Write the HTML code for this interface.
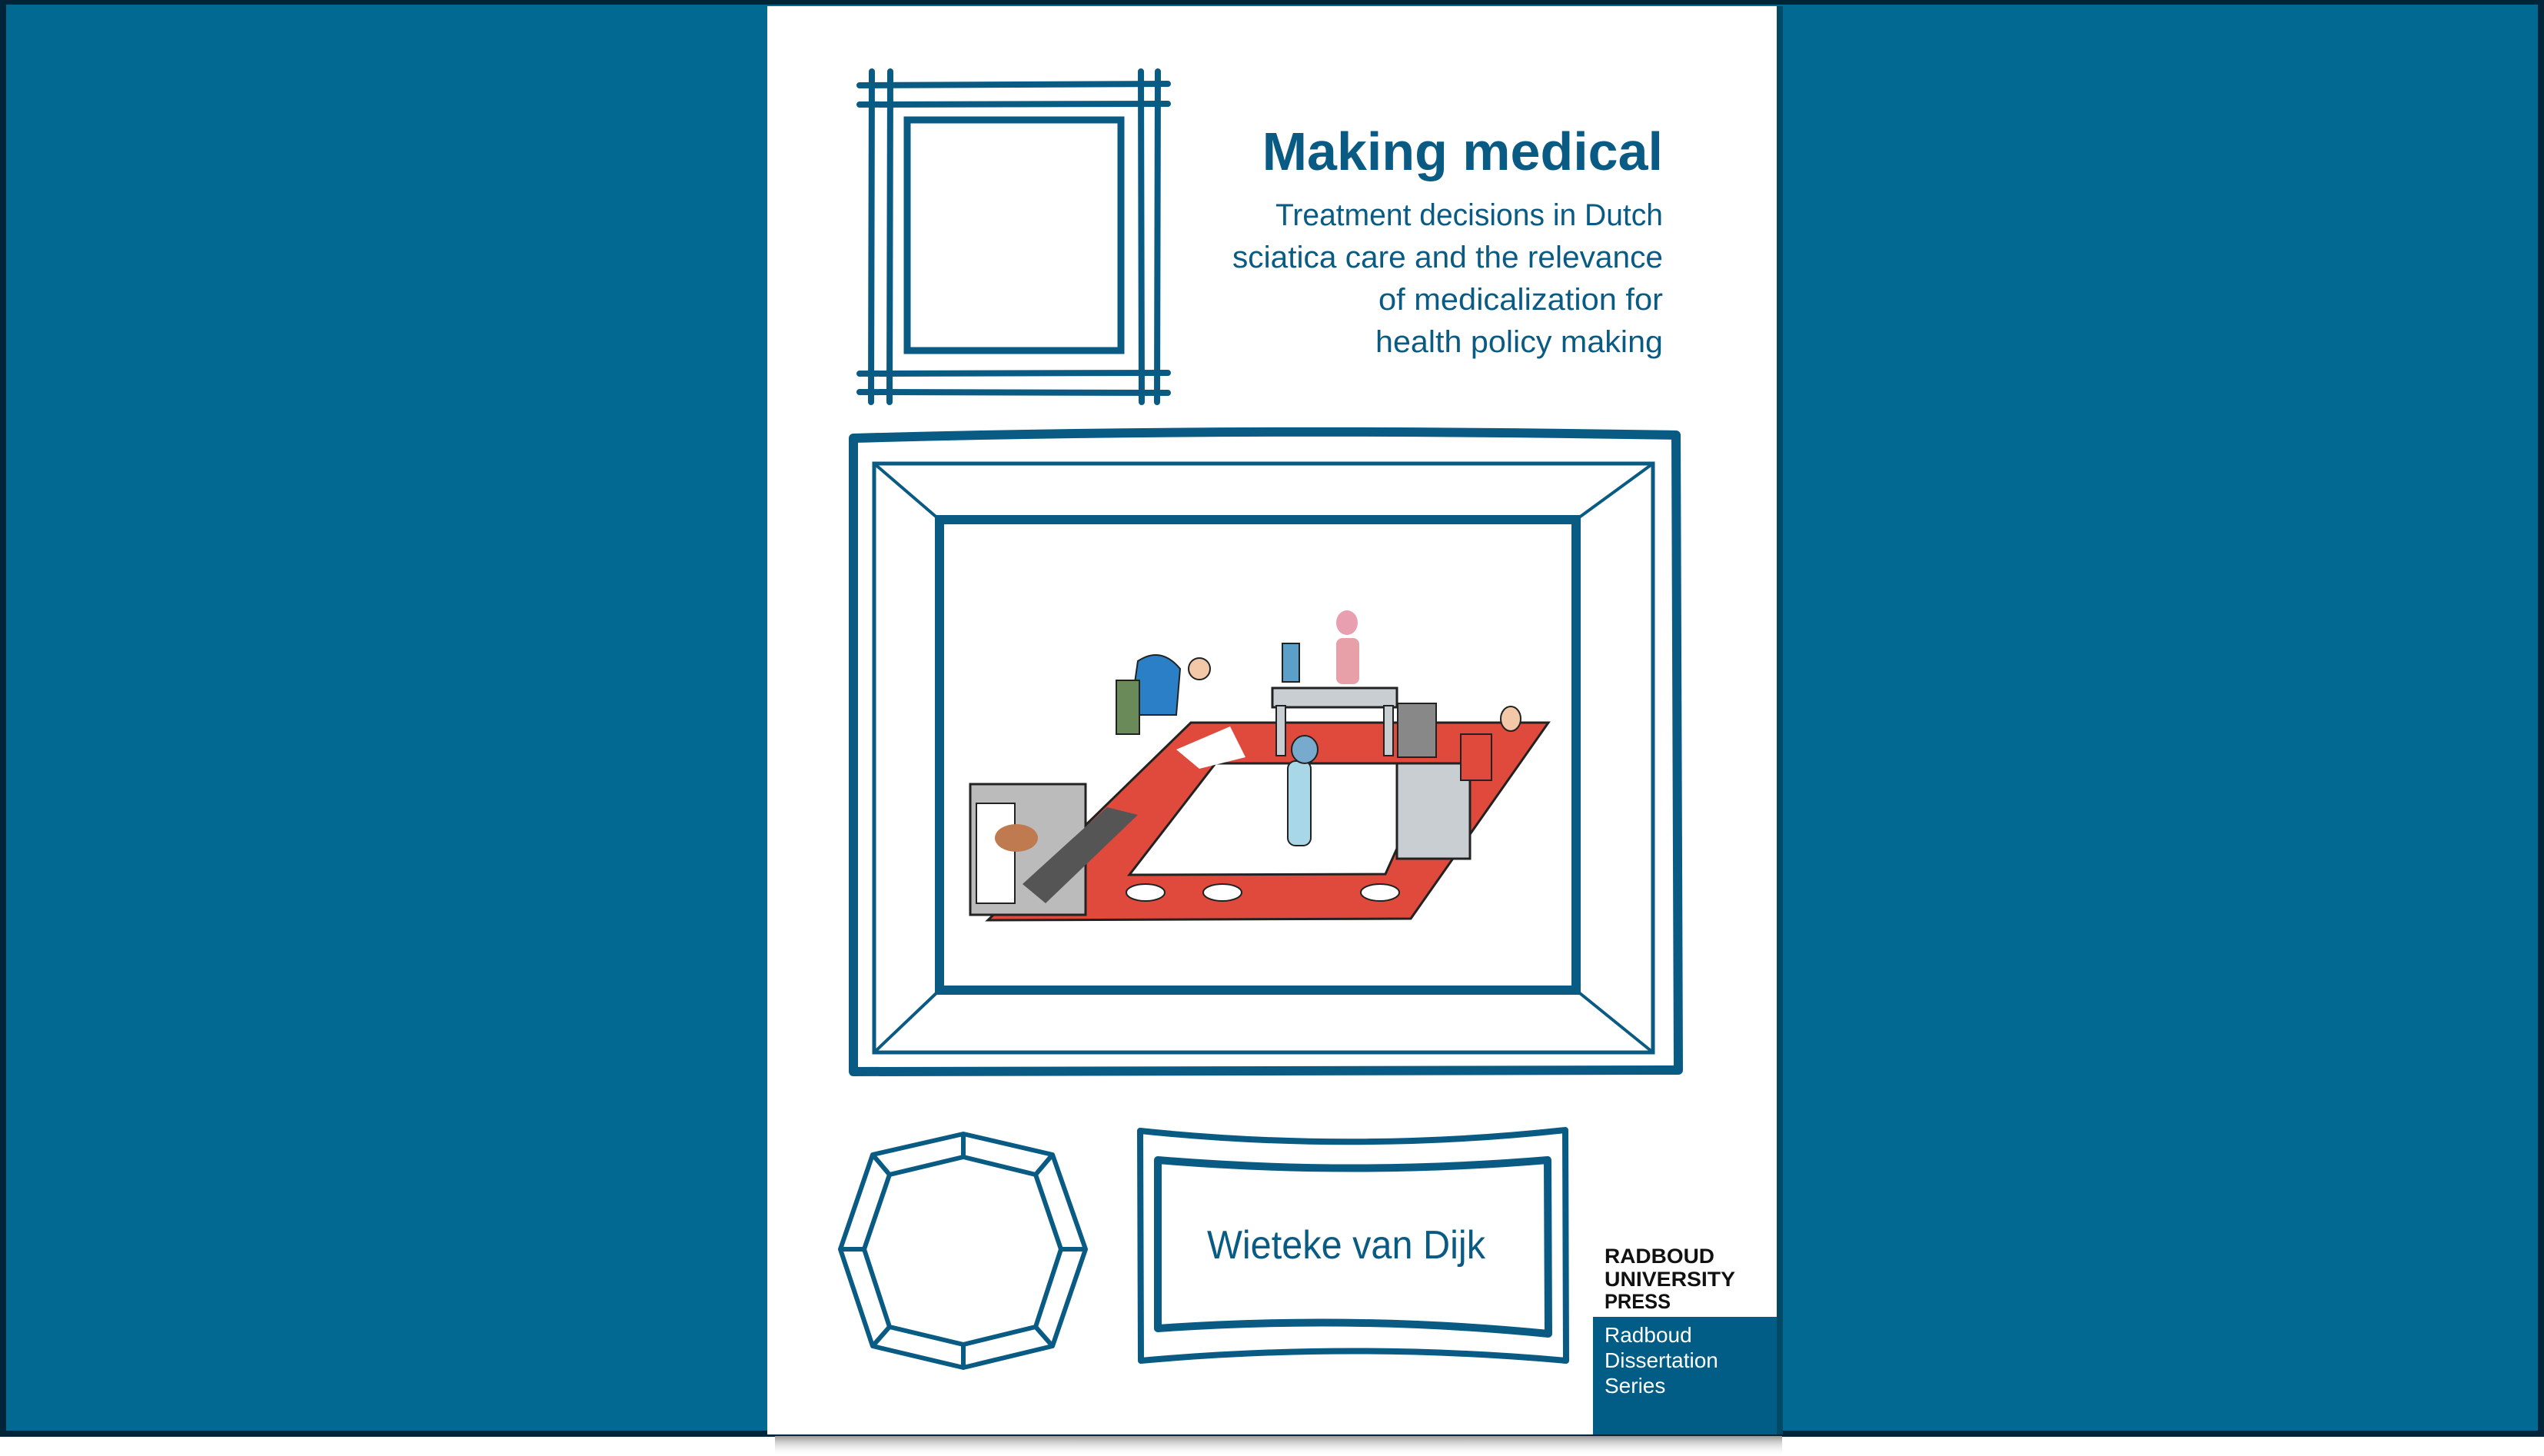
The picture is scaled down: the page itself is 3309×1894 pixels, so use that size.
<!DOCTYPE html>
<html><head><meta charset="utf-8"><style>
html,body{margin:0;padding:0;width:3309px;height:1894px;overflow:hidden;background:#fff}
svg{position:absolute;left:0;top:0}
text{font-family:"Liberation Sans",sans-serif}
</style></head><body>
<svg width="3309" height="1894" viewBox="0 0 3309 1894">
<defs><linearGradient id="sh" x1="0" y1="0" x2="0" y2="1"><stop offset="0" stop-color="#999"/><stop offset="1" stop-color="#fff" stop-opacity="0"/></linearGradient></defs>
<rect x="0" y="0" width="3309" height="1869" fill="#00243a"/>
<rect x="8" y="6" width="3293" height="1855" fill="#026a92"/>
<rect x="1008" y="1868" width="1310" height="26" fill="url(#sh)"/>
<rect x="998" y="8" width="1313" height="1858" fill="#fff"/>
<rect x="2311" y="8" width="8" height="1858" fill="#014a66"/>
<g stroke="#0a5b84" fill="none">
<!-- top-left hatch frame -->
<g stroke-width="8" stroke-linecap="round">
<line x1="1118" y1="111" x2="1519" y2="109"/><line x1="1118" y1="136" x2="1519" y2="135"/>
<line x1="1118" y1="486" x2="1519" y2="485"/><line x1="1118" y1="510" x2="1519" y2="511"/>
<line x1="1134" y1="93" x2="1133" y2="523"/><line x1="1158" y1="93" x2="1157" y2="523"/>
<line x1="1484" y1="93" x2="1485" y2="523"/><line x1="1506" y1="93" x2="1505" y2="523"/>
<rect x="1180" y="156" width="278" height="300" stroke-width="9"/>
</g>
<!-- big frame -->
<path d="M1110 570 Q1600 556 2180 566 L2183 1392 L1110 1394 Z" stroke-width="12" stroke-linejoin="round"/>
<rect x="1137" y="603" width="1013" height="766" stroke-width="5"/>
<rect x="1222" y="676" width="828" height="612" stroke-width="12"/>
<g stroke-width="4"><line x1="1137" y1="603" x2="1222" y2="676"/><line x1="2150" y1="603" x2="2050" y2="676"/><line x1="1137" y1="1369" x2="1222" y2="1288"/><line x1="2150" y1="1369" x2="2050" y2="1288"/></g>
<!-- octagon -->
<g stroke-width="6" stroke-linejoin="round">
<polygon points="1253,1475 1369,1502 1412,1625 1369,1751 1253,1779 1135,1751 1093,1625 1135,1502"/>
<polygon points="1253,1505 1347,1528 1380,1625 1347,1726 1253,1749 1157,1726 1124,1625 1157,1528"/>
<path d="M1253 1475V1505M1369 1502L1347 1528M1412 1625H1380M1369 1751L1347 1726M1253 1779V1749M1135 1751L1157 1726M1093 1625H1124M1135 1502L1157 1528"/>
</g>
<!-- wavy frame -->
<path d="M1483 1471 Q1760 1500 2036 1470 L2037 1770 Q1760 1745 1484 1770 Z" stroke-width="8" stroke-linejoin="round"/>
<path d="M1506 1509 Q1760 1530 2013 1509 L2014 1735 Q1760 1710 1506 1728 Z" stroke-width="10" stroke-linejoin="round"/>
</g>
<!-- illustration -->
<polygon points="1285,1197 1835,1195 2014,940 1549,940" fill="#e04a3c" stroke="#222" stroke-width="3"/>
<polygon points="1469,1138 1802,1137 1867,993 1581,993" fill="#fff" stroke="#222" stroke-width="3"/>
<g fill="#fff" stroke="#222" stroke-width="2"><ellipse cx="1490" cy="1161" rx="25" ry="11"/><ellipse cx="1590" cy="1161" rx="25" ry="11"/><ellipse cx="1795" cy="1161" rx="25" ry="11"/></g>
<polygon points="1530,975 1600,945 1620,985 1560,1000" fill="#fff"/>
<rect x="1262" y="1020" width="150" height="170" fill="#bbb" stroke="#222" stroke-width="3"/>
<rect x="1270" y="1045" width="50" height="130" fill="#fff" stroke="#222" stroke-width="2"/>
<polygon points="1330,1150 1440,1050 1480,1060 1360,1175" fill="#555"/>
<ellipse cx="1322" cy="1090" rx="28" ry="18" fill="#c07a50"/>
<rect x="1655" y="895" width="162" height="25" fill="#c9ced3" stroke="#222" stroke-width="3"/>
<rect x="1660" y="918" width="12" height="65" fill="#c9ced3" stroke="#222" stroke-width="2"/>
<rect x="1800" y="918" width="12" height="65" fill="#c9ced3" stroke="#222" stroke-width="2"/>
<rect x="1668" y="837" width="22" height="50" fill="#5aa0c8" stroke="#222" stroke-width="2"/>
<ellipse cx="1752" cy="810" rx="14" ry="16" fill="#e8a0b0"/>
<rect x="1738" y="830" width="30" height="60" rx="8" fill="#e8a0a8"/>
<rect x="1817" y="993" width="95" height="124" fill="#c9ced3" stroke="#222" stroke-width="3"/>
<rect x="1818" y="915" width="50" height="70" fill="#888" stroke="#222" stroke-width="2"/>
<rect x="1900" y="955" width="40" height="60" fill="#e04a3c" stroke="#222" stroke-width="2"/>
<ellipse cx="1965" cy="935" rx="13" ry="16" fill="#f2c8a8" stroke="#222" stroke-width="2"/>
<rect x="1675" y="990" width="30" height="110" rx="10" fill="#a8d8e8" stroke="#222" stroke-width="2"/>
<ellipse cx="1697" cy="975" rx="17" ry="18" fill="#7ac" stroke="#222" stroke-width="2"/>
<path d="M1480 860 Q1510 840 1535 870 L1530 930 L1470 930 Z" fill="#2a7fc6" stroke="#222" stroke-width="2"/>
<rect x="1452" y="885" width="30" height="70" fill="#6a8a5a" stroke="#222" stroke-width="2"/>
<circle cx="1560" cy="870" r="14" fill="#f2c8a8" stroke="#222" stroke-width="2"/>
<!-- text -->
<text x="2163" y="221" text-anchor="end" font-size="70" font-weight="bold" fill="#0a5b84">Making medical</text>
<g font-size="40" fill="#0a5b84" text-anchor="end">
<text x="2163" y="293" textLength="504" lengthAdjust="spacingAndGlyphs">Treatment decisions in Dutch</text>
<text x="2163" y="348" textLength="560" lengthAdjust="spacingAndGlyphs">sciatica care and the relevance</text>
<text x="2163" y="403" textLength="370" lengthAdjust="spacingAndGlyphs">of medicalization for</text>
<text x="2163" y="458" textLength="374" lengthAdjust="spacingAndGlyphs">health policy making</text>
</g>
<text x="1751" y="1637" text-anchor="middle" font-size="52" fill="#0a5b84" textLength="362" lengthAdjust="spacingAndGlyphs">Wieteke van Dijk</text>
<g font-size="27" font-weight="bold" fill="#111">
<text x="2087" y="1643" textLength="143" lengthAdjust="spacingAndGlyphs">RADBOUD</text>
<text x="2087" y="1673" textLength="170" lengthAdjust="spacingAndGlyphs">UNIVERSITY</text>
<text x="2087" y="1702" textLength="86" lengthAdjust="spacingAndGlyphs">PRESS</text>
</g>
<rect x="2072" y="1713" width="239" height="153" fill="#015d86"/>
<g font-size="28" fill="#fff">
<text x="2087" y="1746">Radboud</text>
<text x="2087" y="1779">Dissertation</text>
<text x="2087" y="1812">Series</text>
</g>
</svg>
</body></html>
